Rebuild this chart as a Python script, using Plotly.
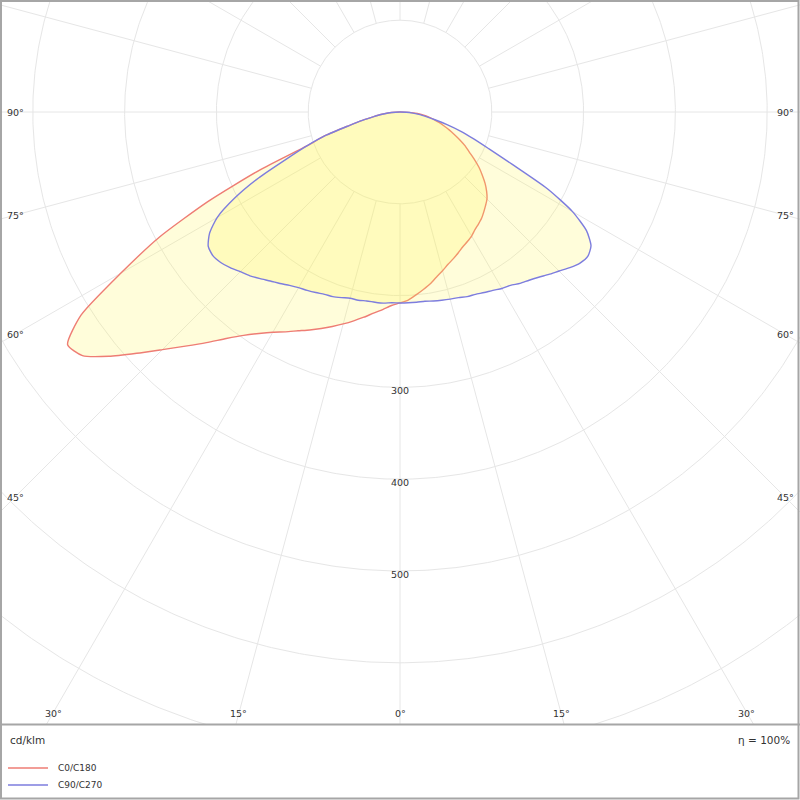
import numpy as np
import plotly.graph_objects as go

# ---------------- data (cd/klm) ----------------
gamma = [0, 2.5, 5, 7.5, 10, 12.5, 15, 17.5, 20, 22.5, 25, 27.5, 30, 32.5, 35, 37.5,
         40, 42.5, 45, 47.5, 50, 52.5, 55, 57.5, 60, 62.5, 65, 67.5, 70, 72.5, 75,
         77.5, 80, 82.5, 85, 87.5, 90]

# C0/C180 plane (left half = C180, right half = C0)
c180 = [208, 211, 216, 221, 227, 233, 239, 245, 251, 257, 263, 270, 277, 286, 297, 311,
        328, 346, 366, 389, 414, 436, 442, 412, 351, 296, 231, 166, 108, 85, 58,
        42, 29, 21, 13, 5, 0]
c0 = [208, 205, 200, 195, 190, 184, 179, 174, 170, 166, 162, 159, 156, 152, 149, 146,
      142, 138, 134, 128, 121, 113, 105, 96, 87, 80, 72, 64, 57, 50, 44,
      38, 32, 26, 19, 10, 0]

# C90/C270 plane (left half = C270, right half = C90)
c270 = [208, 208, 209, 209, 209, 210, 210, 212, 214, 215, 217, 219, 221, 224, 228, 232,
        237, 242, 246, 251, 255, 257, 255, 246, 230, 203, 170, 134, 108, 85, 58,
        42, 29, 21, 13, 5, 0]
c90 = [208, 208, 208, 208, 209, 210, 211, 212, 214, 215, 217, 219, 222, 224, 228, 231,
       235, 240, 245, 251, 256, 258, 254, 241, 217, 181, 135, 105, 85, 69, 53,
       39, 29, 22, 14, 7, 0]

ring_values = [100, 200, 300, 400, 500, 600, 700, 800]
ring_labels = [300, 400, 500]
spoke_angles = [0, 15, 30, 45, 60, 75, 90, 105, 120, 135, 150, 165, 180,
                195, 210, 225, 240, 255, 270, 285, 300, 315, 330, 345]
angle_ticks = [0, 15, 30, 45, 60, 75, 90]

series_names = ["C0/C180", "C90/C270"]
line_colors = ["#ee7d74", "#7d7dde"]
fill_color = "rgba(255,246,80,0.21)"
grid_color = "#e6e6e6"
text_color = "#333333"
font_family = "DejaVu Sans"

# ---------------- geometry ----------------
W, H = 800, 800
S = 0.918            # pixels per cd/klm
CX, CY = 400, 112    # pole position in pixels
PLOT_BOTTOM = 725    # bottom of the diagram area (pixels)

x_range = [-CX / S, (W - CX) / S]
y_range = [-(PLOT_BOTTOM - CY) / S, CY / S]


def to_xy(left, right):
    g = np.radians(gamma)
    l = np.asarray(left, float)
    r = np.asarray(right, float)
    xl, yl = -l * np.sin(g), -l * np.cos(g)
    xr, yr = r * np.sin(g), -r * np.cos(g)
    x = np.concatenate([xl[::-1], xr[1:]])
    y = np.concatenate([yl[::-1], yr[1:]])
    return x, y


fig = go.Figure()

# grid rings
t = np.linspace(0, 2 * np.pi, 721)
for rv in ring_values:
    fig.add_trace(go.Scatter(x=rv * np.sin(t), y=rv * np.cos(t), mode="lines",
                             line=dict(color=grid_color, width=1),
                             hoverinfo="skip", showlegend=False))
# grid spokes (start at first ring)
for a in spoke_angles:
    ar = np.radians(a)
    r0, r1 = ring_values[0], 1200
    fig.add_trace(go.Scatter(x=[r0 * np.sin(ar), r1 * np.sin(ar)],
                             y=[-r0 * np.cos(ar), -r1 * np.cos(ar)], mode="lines",
                             line=dict(color=grid_color, width=1),
                             hoverinfo="skip", showlegend=False))

# curves
for (left, right), name, col in zip([(c180, c0), (c270, c90)], series_names, line_colors):
    x, y = to_xy(left, right)
    fig.add_trace(go.Scatter(x=x, y=y, mode="lines", name=name, fill="toself",
                             fillcolor=fill_color,
                             line=dict(color=col, width=1.4, shape="spline", smoothing=0.6),
                             showlegend=False))

annotations = []
# ring labels
for rv in ring_labels:
    annotations.append(dict(x=0, y=-rv, xref="x", yref="y", text=str(rv), showarrow=False,
                            yshift=-3, font=dict(size=9.5, color=text_color, family=font_family)))

# angle labels: where each spoke meets an inset frame
half_w = (CX - 15) / S
depth = (713 - CY) / S
for a in angle_ticks:
    ar = np.radians(a)
    tt = []
    if np.sin(ar) > 1e-9:
        tt.append(half_w / np.sin(ar))
    if np.cos(ar) > 1e-9:
        tt.append(depth / np.cos(ar))
    d = min(tt)
    for side in ([1] if a == 0 else [-1, 1]):
        annotations.append(dict(x=side * d * np.sin(ar), y=-d * np.cos(ar), xref="x", yref="y",
                                text=f"{a}°", showarrow=False,
                                font=dict(size=9.5, color=text_color, family=font_family)))

# footer texts
annotations.append(dict(x=8 / W, y=1 - 740 / H, xref="paper", yref="paper", text="cd/klm",
                        showarrow=False, xanchor="left", yanchor="middle",
                        font=dict(size=10.5, color=text_color, family=font_family)))
annotations.append(dict(x=792 / W, y=1 - 740 / H, xref="paper", yref="paper", text="η = 100%",
                        showarrow=False, xanchor="right", yanchor="middle",
                        font=dict(size=10.5, color=text_color, family=font_family)))

shapes = []
legend_y = [768, 785]
for name, col, ly in zip(series_names, line_colors, legend_y):
    shapes.append(dict(type="line", xref="paper", yref="paper", x0=8 / W, x1=48 / W,
                       y0=1 - ly / H, y1=1 - ly / H, line=dict(color=col, width=1.4)))
    annotations.append(dict(x=56 / W, y=1 - ly / H, xref="paper", yref="paper", text=name,
                            showarrow=False, xanchor="left", yanchor="middle",
                            font=dict(size=9, color=text_color, family=font_family)))

# frame and divider
frame_col = "#a6a6a6"
shapes.append(dict(type="rect", xref="paper", yref="paper", x0=1 / W, x1=798.5 / W,
                   y0=1 - 798.5 / H, y1=1 - 1 / H, line=dict(color=frame_col, width=2)))
shapes.append(dict(type="line", xref="paper", yref="paper", x0=0, x1=1,
                   y0=1 - 724.5 / H, y1=1 - 724.5 / H, line=dict(color=frame_col, width=2)))

fig.update_layout(
    width=W, height=H, margin=dict(l=0, r=0, t=0, b=0),
    paper_bgcolor="white", plot_bgcolor="white",
    xaxis=dict(range=x_range, domain=[0, 1], visible=False, fixedrange=True),
    yaxis=dict(range=y_range, domain=[1 - PLOT_BOTTOM / H, 1], visible=False, fixedrange=True),
    annotations=annotations, shapes=shapes, showlegend=False,
    font=dict(family=font_family, color=text_color),
)

fig.write_html("out.html", config={"displayModeBar": False},
               post_script="document.body.style.margin='0';document.body.style.overflow='hidden';")
